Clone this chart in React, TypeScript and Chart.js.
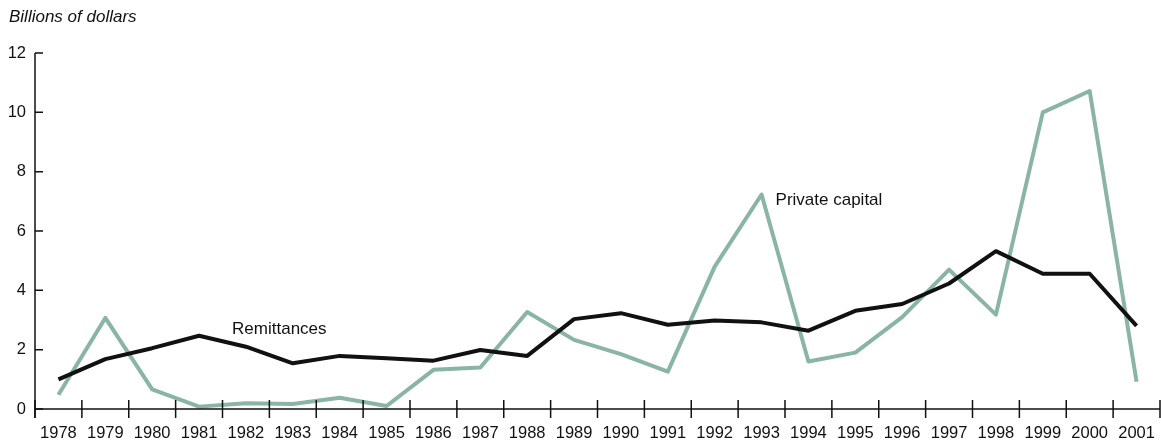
import React, { useEffect, useRef } from "react";
import { Chart, registerables } from "chart.js";

Chart.register(...registerables);

const years: string[] = [
  "1978", "1979", "1980", "1981", "1982", "1983", "1984", "1985", "1986", "1987", "1988", "1989",
  "1990", "1991", "1992", "1993", "1994", "1995", "1996", "1997", "1998", "1999", "2000", "2001",
];

const remittances: number[] = [
  1.0, 1.68, 2.05, 2.47, 2.1, 1.54, 1.79, 1.71, 1.63, 1.99, 1.79, 3.03,
  3.23, 2.84, 2.98, 2.92, 2.64, 3.31, 3.54, 4.23, 5.32, 4.56, 4.56, 2.8,
];

const privateCapital: number[] = [
  0.48, 3.07, 0.66, 0.08, 0.19, 0.17, 0.38, 0.1, 1.32, 1.4, 3.27, 2.33,
  1.85, 1.26, 4.8, 7.23, 1.6, 1.9, 3.1, 4.7, 3.18, 10.0, 10.72, 0.92,
];

const yTicks: number[] = [0, 2, 4, 6, 8, 10, 12];

const FONT = "'Liberation Sans', Arial, Helvetica, sans-serif";
const GREEN = "#8ab4a6";
const INK = "#111111";

const decorPlugin = {
  id: "decor",
  afterDraw(chart: any) {
    const ctx = chart.ctx;
    const xs = chart.scales.x;
    const ys = chart.scales.y;
    const area = chart.chartArea;
    const step = xs.getPixelForValue(1) - xs.getPixelForValue(0);
    const axisY = ys.getPixelForValue(0);
    ctx.save();
    ctx.strokeStyle = INK;
    ctx.lineWidth = 1.5;
    // axes
    ctx.beginPath();
    ctx.moveTo(area.left, ys.getPixelForValue(12));
    ctx.lineTo(area.left, axisY + 9);
    ctx.moveTo(area.left, axisY);
    ctx.lineTo(area.right, axisY);
    ctx.stroke();
    // x ticks (crossing)
    ctx.beginPath();
    for (let i = 0; i <= years.length; i++) {
      const px = xs.getPixelForValue(i) - step / 2;
      ctx.moveTo(px, axisY - 9);
      ctx.lineTo(px, axisY + 9);
    }
    ctx.stroke();
    // y ticks (inward)
    ctx.beginPath();
    for (const v of yTicks) {
      const py = ys.getPixelForValue(v);
      ctx.moveTo(area.left, py);
      ctx.lineTo(area.left + 8, py);
    }
    ctx.stroke();
    // texts
    ctx.fillStyle = INK;
    ctx.textBaseline = "middle";
    ctx.textAlign = "left";
    ctx.font = `italic 17px ${FONT}`;
    ctx.fillText("Billions of dollars", 9, 17);
    ctx.font = `17px ${FONT}`;
    ctx.fillText("Remittances", xs.getPixelForValue(3) + 33, ys.getPixelForValue(2.67));
    ctx.fillText("Private capital", xs.getPixelForValue(15) + 14, ys.getPixelForValue(7.03));
    ctx.restore();
  },
};

export default function App() {
  const canvasRef = useRef<HTMLCanvasElement | null>(null);

  useEffect(() => {
    if (!canvasRef.current) return;
    const chart = new Chart(canvasRef.current, {
      type: "line",
      data: {
        labels: years,
        datasets: [
          {
            label: "Remittances",
            data: remittances,
            borderColor: INK,
            borderWidth: 4,
            pointRadius: 0,
            tension: 0,
            borderJoinStyle: "round",
            borderCapStyle: "butt",
          },
          {
            label: "Private capital",
            data: privateCapital,
            borderColor: GREEN,
            borderWidth: 4,
            pointRadius: 0,
            tension: 0,
            borderJoinStyle: "round",
            borderCapStyle: "butt",
          },
        ],
      },
      options: {
        responsive: false,
        animation: false,
        maintainAspectRatio: false,
        layout: { padding: { top: 53, left: 0, right: 1, bottom: 0 } },
        plugins: {
          legend: { display: false },
          title: { display: false },
          tooltip: { enabled: false },
        },
        scales: {
          x: {
            type: "category",
            offset: true,
            grid: { display: false, offset: true, drawTicks: false, tickLength: 0 },
            border: { display: false },
            ticks: {
              autoSkip: false,
              maxRotation: 0,
              minRotation: 0,
              padding: 15,
              color: INK,
              font: { family: FONT, size: 16.5 },
            },
            afterFit: (scale: any) => {
              scale.height = 35;
              scale.paddingLeft = 0;
              scale.paddingRight = 0;
            },
          },
          y: {
            min: 0,
            max: 12,
            grid: { display: false, drawTicks: false, tickLength: 0 },
            border: { display: false },
            ticks: {
              stepSize: 2,
              padding: 9,
              color: INK,
              font: { family: FONT, size: 16.5 },
            },
            afterFit: (scale: any) => {
              scale.width = 35;
            },
          },
        },
      },
      plugins: [decorPlugin],
    });
    return () => chart.destroy();
  }, []);

  return (
    <div style={{ position: "absolute", left: 0, top: 0, width: 1161, height: 444 }}>
      <canvas ref={canvasRef} width={1161} height={444} style={{ width: 1161, height: 444 }} />
    </div>
  );
}
